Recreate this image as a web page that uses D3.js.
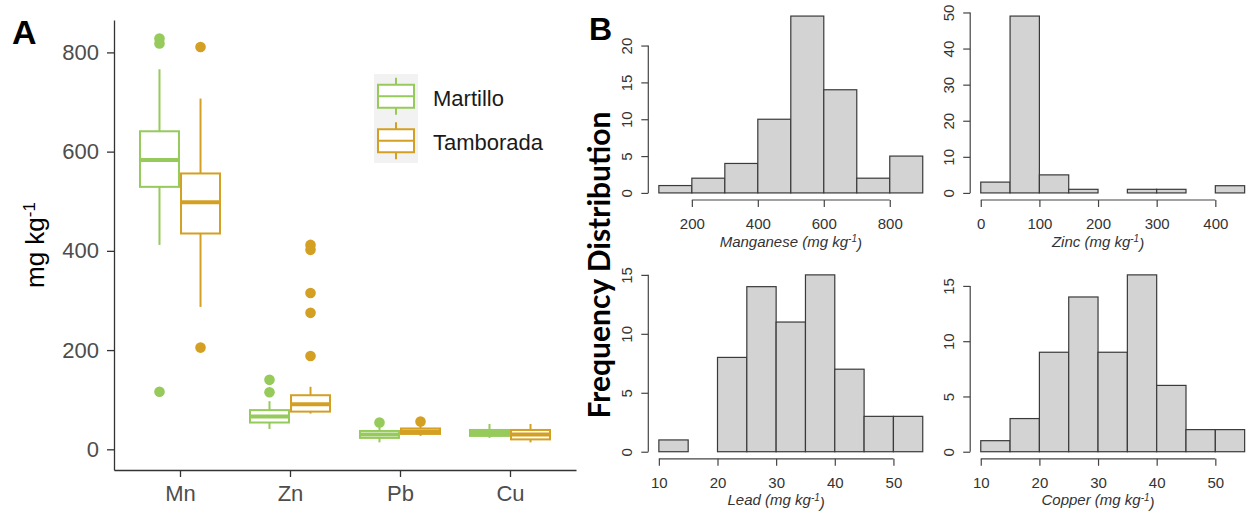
<!DOCTYPE html>
<html>
<head>
<meta charset="utf-8">
<script src="https://cdn.jsdelivr.net/npm/d3@7"></script>
<style>
  body { margin: 0; background: #fff; }
  svg { display: block; font-family: "Liberation Sans", Arial, sans-serif; }
</style>
</head>
<body>
<svg id="chart" width="1246" height="511"></svg>
<script>
// ---- panel A data (box stats: [low whisker, q1, median, q3, high whisker]) ----
var elements = ["Mn", "Zn", "Pb", "Cu"];
var sites = ["Martillo", "Tamborada"];
var siteColors = ["#96ca5a", "#d4a023"];
var martilloBox = [[412, 529, 583, 641, 766], [41, 54, 66, 79, 97], [14, 23, 30, 37, 46], [23, 27, 33, 39, 51]];
var tamboradaBox = [[287, 435, 498, 556, 707], [72, 76, 91, 109, 126], [27, 31, 36, 42, 49], [14, 20, 30, 39, 51]];
var martilloOut = [[828, 818, 116], [140, 115], [54], []];
var tamboradaOut = [[811, 205], [412, 402, 315, 275, 188], [56], []];
var boxTicks = [0, 200, 400, 600, 800];

// ---- panel B data (histogram counts) ----
var mnCounts = [1, 2, 4, 10, 24, 14, 2, 5];        // breaks 100..900 by 100
var znCounts = [3, 49, 5, 1, 0, 1, 1, 0, 2];       // breaks 0..450 by 50
var pbCounts = [1, 0, 8, 14, 11, 15, 7, 3, 3];     // breaks 10..55 by 5
var cuCounts = [1, 3, 9, 14, 9, 16, 6, 2, 2];      // breaks 10..55 by 5
var mnXTicks = [200, 400, 600, 800], mnYTicks = [0, 5, 10, 15, 20];
var znXTicks = [0, 100, 200, 300, 400], znYTicks = [0, 10, 20, 30, 40, 50];
var pbXTicks = [10, 20, 30, 40, 50], pbYTicks = [0, 5, 10, 15];
var cuXTicks = [10, 20, 30, 40, 50], cuYTicks = [0, 5, 10, 15];

var svg = d3.select("#chart");

// ================= Panel A =================
svg.append("text")
  .attr("x", 12).attr("y", 44)
  .style("font-size", "34px").style("font-weight", "bold")
  .text("A");

var x = d3.scalePoint().domain(elements).range([114, 576]).padding(0.6);
var y = d3.scaleLinear().domain([-41.7, 865.3]).range([470, 20]);
var dodge = d3.scaleBand().domain(sites).range([-40, 40]).paddingInner(0.05);
var bw = dodge.bandwidth();

var yAxisA = svg.append("g")
  .attr("transform", "translate(114,0)")
  .call(d3.axisLeft(y).tickValues(boxTicks).tickSize(7).tickSizeOuter(0).tickPadding(8));
var xAxisA = svg.append("g")
  .attr("transform", "translate(0,470)")
  .call(d3.axisBottom(x).tickSize(7).tickSizeOuter(0).tickPadding(8));
[yAxisA, xAxisA].forEach(function(g) {
  g.select(".domain").attr("stroke", "#333").attr("stroke-width", 1.3);
  g.selectAll(".tick line").attr("stroke", "#333").attr("stroke-width", 1.3);
  g.selectAll(".tick text").attr("fill", "#4d4d4d").style("font-size", "22px")
    .style("font-family", "'Liberation Sans', Arial, sans-serif");
});

// y axis title
svg.append("text")
  .attr("transform", "translate(44,245) rotate(-90)")
  .attr("text-anchor", "middle")
  .style("font-size", "26px")
  .text("mg kg")
  .append("tspan").attr("dy", "-0.55em").style("font-size", "17px").text("-1");

var series = sites.map(function(s, i) {
  return { site: s, color: siteColors[i], box: [martilloBox, tamboradaBox][i], out: [martilloOut, tamboradaOut][i] };
});

series.forEach(function(sr) {
  var g = svg.append("g").attr("class", "series");
  elements.forEach(function(el, j) {
    var st = sr.box[j];
    var cx = x(el) + dodge(sr.site) + bw / 2;
    // whiskers
    g.append("line").attr("x1", cx).attr("x2", cx).attr("y1", y(st[3])).attr("y2", y(st[4]))
      .attr("stroke", sr.color).attr("stroke-width", 2);
    g.append("line").attr("x1", cx).attr("x2", cx).attr("y1", y(st[1])).attr("y2", y(st[0]))
      .attr("stroke", sr.color).attr("stroke-width", 2);
    // box
    g.append("rect")
      .attr("x", cx - bw / 2).attr("width", bw)
      .attr("y", y(st[3])).attr("height", y(st[1]) - y(st[3]))
      .attr("fill", "#fff").attr("stroke", sr.color).attr("stroke-width", 2);
    // median
    g.append("line").attr("x1", cx - bw / 2).attr("x2", cx + bw / 2)
      .attr("y1", y(st[2])).attr("y2", y(st[2]))
      .attr("stroke", sr.color).attr("stroke-width", 4);
    // outliers
    g.selectAll(null).data(sr.out[j]).enter().append("circle")
      .attr("cx", cx).attr("cy", function(d) { return y(d); }).attr("r", 5.3)
      .attr("fill", sr.color);
  });
});

// legend
var legRow = d3.scaleBand().domain(sites).range([74, 163]);
svg.append("rect").attr("x", 374).attr("y", 74).attr("width", 44).attr("height", 89).attr("fill", "#f2f2f2");
series.forEach(function(sr) {
  var cy = legRow(sr.site) + legRow.bandwidth() / 2;
  var lg = svg.append("g");
  lg.append("line").attr("x1", 396).attr("x2", 396).attr("y1", cy - 18.5).attr("y2", cy + 18.5)
    .attr("stroke", sr.color).attr("stroke-width", 2);
  lg.append("rect").attr("x", 378).attr("y", cy - 11.5).attr("width", 36).attr("height", 23)
    .attr("fill", "#fff").attr("stroke", sr.color).attr("stroke-width", 2);
  lg.append("line").attr("x1", 378).attr("x2", 414).attr("y1", cy).attr("y2", cy)
    .attr("stroke", sr.color).attr("stroke-width", 2);
  lg.append("text").attr("x", 433).attr("y", cy + 9.5)
    .attr("fill", "#1a1a1a").style("font-size", "22px").text(sr.site);
});

// ================= Panel B =================
svg.append("text")
  .attr("x", 589).attr("y", 40)
  .style("font-size", "32px").style("font-weight", "bold")
  .text("B");

svg.append("text")
  .attr("transform", "translate(609.5,265) rotate(-90)")
  .attr("text-anchor", "middle")
  .style("font-family", "Lato, sans-serif")
  .style("font-size", "30px").style("font-weight", "bold")
  .text("Frequency Distribution");

var cols = [[648.3, 933.3], [970.2, 1255.2]];
var rows = [[200, 9], [458.8, 267.8]];

var hists = [
  { counts: mnCounts, start: 100, width: 100, xt: mnXTicks, yt: mnYTicks, label: "Manganese", col: 0, row: 0 },
  { counts: znCounts, start: 0, width: 50, xt: znXTicks, yt: znYTicks, label: "Zinc", col: 1, row: 0 },
  { counts: pbCounts, start: 10, width: 5, xt: pbXTicks, yt: pbYTicks, label: "Lead", col: 0, row: 1 },
  { counts: cuCounts, start: 10, width: 5, xt: cuXTicks, yt: cuYTicks, label: "Copper", col: 1, row: 1 }
];

hists.forEach(function(h) {
  var xmin = h.start, xmax = h.start + h.width * h.counts.length;
  var ymax = d3.max(h.counts);
  var padX = (xmax - xmin) * 0.04, padY = ymax * 0.04;
  var xs = d3.scaleLinear().domain([xmin - padX, xmax + padX]).range(cols[h.col]);
  var ys = d3.scaleLinear().domain([-padY, ymax + padY]).range(rows[h.row]);
  var left = cols[h.col][0], bottom = rows[h.row][0];
  var g = svg.append("g");

  g.selectAll("rect").data(h.counts).enter().append("rect")
    .attr("x", function(d, i) { return xs(h.start + i * h.width); })
    .attr("width", function(d, i) { return xs(h.start + (i + 1) * h.width) - xs(h.start + i * h.width); })
    .attr("y", function(d) { return ys(d); })
    .attr("height", function(d) { return ys(0) - ys(d); })
    .attr("fill", "#d3d3d3").attr("stroke", "#3a3a3a").attr("stroke-width", 1.2);

  // y axis (R style: line spans ticks only)
  var ya = g.append("g").attr("transform", "translate(" + left + ",0)")
    .call(d3.axisLeft(ys).tickValues(h.yt).tickSize(7).tickSizeOuter(0));
  ya.select(".domain").remove();
  ya.append("line").attr("x1", 0).attr("x2", 0)
    .attr("y1", ys(h.yt[0])).attr("y2", ys(h.yt[h.yt.length - 1]));
  ya.selectAll(".tick text")
    .attr("x", 0).attr("dy", 0).attr("text-anchor", "middle")
    .attr("transform", "translate(-16.5,0) rotate(-90)");

  var xa = g.append("g").attr("transform", "translate(0," + bottom + ")")
    .call(d3.axisBottom(xs).tickValues(h.xt).tickSize(7).tickSizeOuter(0).tickPadding(11.3));
  xa.select(".domain").remove();
  xa.append("line").attr("y1", 0).attr("y2", 0)
    .attr("x1", xs(h.xt[0])).attr("x2", xs(h.xt[h.xt.length - 1]));

  [ya, xa].forEach(function(a) {
    a.selectAll("line").attr("stroke", "#444").attr("stroke-width", 1.2);
    a.selectAll(".tick text").attr("fill", "#333").style("font-size", "15px")
      .style("font-family", "'Liberation Sans', Arial, sans-serif");
  });

  var t = g.append("text")
    .attr("x", (xs(h.xt[0]) + xs(h.xt[h.xt.length - 1])) / 2)
    .attr("y", bottom + 46.5)
    .attr("text-anchor", "middle")
    .attr("fill", "#333")
    .style("font-size", "15px").style("font-style", "italic");
  t.append("tspan").text(h.label + " (mg kg");
  t.append("tspan").attr("dy", "-0.45em").style("font-size", "10px").text("-1");
  t.append("tspan").attr("dy", "0.45em").text(")");
});
</script>
</body>
</html>
